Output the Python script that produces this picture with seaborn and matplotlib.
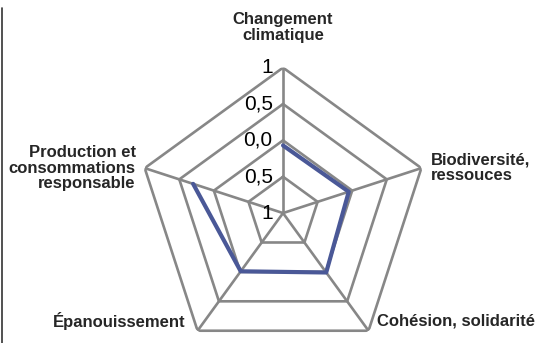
import numpy as np
import pandas as pd
import seaborn as sns
import matplotlib.pyplot as plt

# axes of the radar, clockwise from the top
categories = ["Changement\nclimatique", "Biodiversité,\nressouces", "Cohésion, solidarité",
              "Épanouissement", "Production et\nconsommations\nresponsable"]
values = [-0.07, -0.05, 0.01, -0.01, 0.30]
rings = [-0.5, 0.0, 0.5, 1.0]
tick_labels = ["1", "0,5", "0,0", "0,5", "1"]
tick_values = [1.0, 0.5, 0.0, -0.5, -1.0]

sns.set_style("white")
plt.rcParams['font.family'] = ['Liberation Sans', 'DejaVu Sans']

fig = plt.figure(figsize=(5.38, 3.43), dpi=100)
ax = fig.add_axes([0.2556, -0.0452, 0.541, 0.848], projection='polar')
ax.set_theta_zero_location('N')
ax.set_theta_direction(-1)
ax.set_ylim(-1, 1)

n = len(categories)
angles = np.arange(n) * 2 * np.pi / n
closed = np.append(angles, angles[0])

grid_col = "#878787"
for r in rings:
    ax.plot(closed, [r] * (n + 1), color=grid_col, lw=1.9, zorder=1)
for a in angles:
    ax.plot([a, a], [-1, 1], color=grid_col, lw=1.9, zorder=1)

df = pd.DataFrame({"theta": closed, "val": np.append(values, values[0])})
sns.lineplot(data=df, x="theta", y="val", sort=False, ax=ax, color="#4A5897",
             lw=3, zorder=3)

ax.grid(False)
ax.spines['polar'].set_visible(False)
ax.set_xticks([])
ax.set_yticks([])
ax.set_xlabel("")
ax.set_ylabel("")

# radial tick labels along the top axis
for t, v in zip(tick_labels, tick_values):
    ax.annotate(t, xy=(0, v), xytext=(-7.5, 0), textcoords='offset points',
                ha='right', va='center', fontsize=15, color='black', zorder=4)

# category labels
offsets = [(0, 18, 'center', 'bottom'), (6.5, 0, 'left', 'center'),
           (6, 7, 'left', 'center'), (-9, 7, 'right', 'center'),
           (-6.5, 0, 'right', 'center')]
for lab, a, (dx, dy, ha, va) in zip(categories, angles, offsets):
    ax.annotate(lab, xy=(a, 1), xytext=(dx, dy), textcoords='offset points',
                ha=ha, va=va, fontsize=12, fontweight='bold', linespacing=1.05,
                annotation_clip=False)

# thin frame line at the left edge
fig.add_artist(plt.Line2D([0.004, 0.004], [0, 0.977], color="#333333", lw=1.2))

fig.savefig("out.png", dpi=100)
